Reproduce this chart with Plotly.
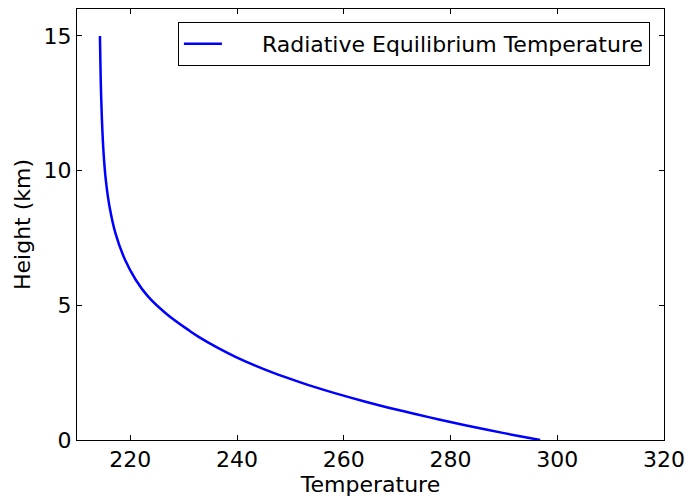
import plotly.graph_objects as go

# Values
height_km = [0.0, 0.14, 0.37, 0.53, 0.65, 0.84, 1.02, 1.21, 1.43, 1.74, 1.98, 2.13,
             2.50, 2.77, 3.08, 3.42, 3.83, 4.04, 4.66, 5.33, 5.95, 6.69, 7.68,
             8.66, 9.65, 10.75, 12.6, 15.0]
temperature = [296.8, 293.0, 287.1, 283.2, 280.4, 276.1, 272.2, 268.2, 263.9, 258.3, 254.3, 252.0,
               246.7, 243.3, 239.8, 236.4, 232.8, 231.2, 226.9, 223.3, 221.0, 219.0, 217.2,
               216.1, 215.4, 214.95, 214.55, 214.3]
x_ticks = [220, 240, 260, 280, 300, 320]
y_ticks = [0, 5, 10, 15]

FONT = "DejaVu Sans"
FS = 22

fig = go.Figure()
fig.add_trace(go.Scatter(
    x=temperature, y=height_km, mode="lines",
    line=dict(color="#0000ff", width=2.5, shape="spline", smoothing=1.0),
    name="\u00a0\u00a0\u00a0\u00a0\u00a0Radiative Equilibrium Temperature",
))

axis_common = dict(
    showline=True, linecolor="black", linewidth=1, mirror="ticks",
    ticks="inside", ticklen=5, tickwidth=1, tickcolor="black",
    showgrid=False, zeroline=False,
    tickfont=dict(family=FONT, size=FS, color="black"),
)

fig.update_layout(
    width=693, height=500,
    margin=dict(l=77, r=26, t=8, b=59),
    plot_bgcolor="white", paper_bgcolor="white",
    font=dict(family=FONT, size=FS, color="black"),
    xaxis=dict(range=[210, 320], tickvals=x_ticks,
               title=dict(text="Temperature", font=dict(family=FONT, size=FS), standoff=4),
               **axis_common),
    yaxis=dict(range=[0, 16], tickvals=y_ticks,
               title=dict(text="Height (km)", font=dict(family=FONT, size=FS), standoff=6),
               **axis_common),
    showlegend=True,
    legend=dict(x=0.976, y=0.970, xanchor="right", yanchor="top",
                bordercolor="black", borderwidth=1, bgcolor="white",
                font=dict(family=FONT, size=FS, color="black"),
                itemwidth=38),
)

fig.write_html("out.html")
